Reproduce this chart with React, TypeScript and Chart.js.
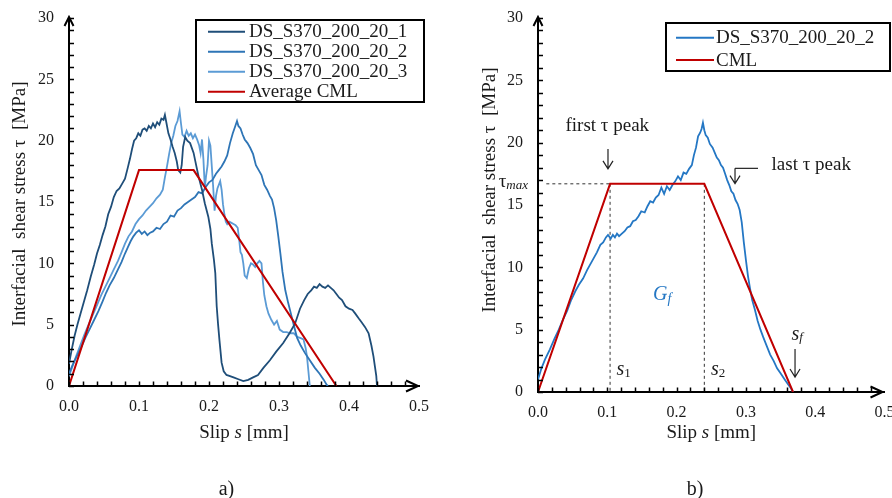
import React, { useEffect, useRef } from 'react';
import { Chart, registerables } from 'chart.js';

Chart.register(...registerables);

const SERIF = '"Liberation Serif", "Times New Roman", Times, serif';
const TEXT = '#1a1a1a';

// ---------------- Panel a) data ----------------
const slipA1 = [
  0, 0.004, 0.008, 0.012, 0.016, 0.021, 0.026, 0.031, 0.036, 0.040,
  0.044, 0.048, 0.052, 0.056, 0.060, 0.064, 0.068, 0.072, 0.076, 0.080,
  0.084, 0.087, 0.090, 0.093, 0.096, 0.099, 0.102, 0.105, 0.108, 0.111,
  0.114, 0.117, 0.120, 0.123, 0.126, 0.129, 0.132, 0.135, 0.137, 0.139,
  0.142, 0.145, 0.148, 0.151, 0.154, 0.156, 0.159, 0.161, 0.163, 0.166,
  0.169, 0.173, 0.178, 0.182, 0.185, 0.190, 0.194, 0.199, 0.202, 0.204,
  0.207, 0.209, 0.211, 0.213, 0.215, 0.218, 0.221, 0.225, 0.230, 0.235,
  0.242, 0.249, 0.256, 0.263, 0.270, 0.278, 0.287, 0.296, 0.306, 0.315,
  0.323, 0.330, 0.336, 0.341, 0.346, 0.350, 0.354, 0.358, 0.362, 0.366,
  0.370, 0.374, 0.378, 0.382, 0.386, 0.390, 0.395, 0.400, 0.405, 0.409,
  0.414, 0.418, 0.423, 0.428, 0.432, 0.435, 0.437, 0.439, 0.440,
];
const tauA1 = [
  1.8, 3.0, 4.1, 5.0, 5.8, 6.8, 7.8, 8.9, 9.9, 10.8,
  11.5, 12.3, 13.0, 14.0, 14.6, 15.4, 15.9, 16.1, 16.5, 16.9,
  17.8, 18.5, 19.3, 20.0, 20.2, 20.6, 20.4, 20.9, 21.0, 20.8,
  21.2, 21.0, 21.4, 21.1, 21.5, 21.3, 21.8, 21.7, 22.1, 21.5,
  20.6, 20.1, 19.5, 19.0, 18.3, 17.6, 17.4, 18.0, 19.5, 20.3,
  20.0, 19.8, 19.0, 17.9, 17.1, 16.0, 14.9, 13.8, 12.8, 11.6,
  10.3, 9.2, 6.5, 5.0, 3.7, 1.9, 1.2, 0.9, 0.8, 0.7,
  0.55, 0.4, 0.5, 0.7, 0.9, 1.5, 2.1, 2.8, 3.5, 4.3,
  5.1, 6.3, 7.0, 7.5, 7.8, 8.1, 8.0, 8.3, 8.1, 8.0,
  8.2, 8.0, 7.8, 7.5, 7.2, 7.0, 6.5, 6.3, 6.2, 5.9,
  5.5, 5.2, 4.8, 4.3, 3.3, 2.4, 1.6, 0.8, 0,
];

const slipA2 = [
  0, 0.005, 0.010, 0.017, 0.024, 0.030, 0.036, 0.042, 0.048, 0.053,
  0.058, 0.064, 0.070, 0.075, 0.080, 0.084, 0.088, 0.092, 0.096, 0.100,
  0.104, 0.108, 0.112, 0.116, 0.120, 0.125, 0.130, 0.135, 0.140, 0.145,
  0.150, 0.155, 0.160, 0.165, 0.170, 0.175, 0.180, 0.185, 0.190, 0.195,
  0.200, 0.205, 0.210, 0.214, 0.218, 0.222, 0.226, 0.230, 0.234, 0.237,
  0.240, 0.242, 0.245, 0.248, 0.251, 0.255, 0.259, 0.263, 0.267, 0.271,
  0.275, 0.279, 0.283, 0.287, 0.290, 0.293, 0.296, 0.299, 0.302, 0.305,
  0.309, 0.313, 0.317, 0.321, 0.326, 0.331, 0.337, 0.344, 0.351, 0.358,
  0.364, 0.368, 0.370,
];
const tauA2 = [
  1.0, 1.7, 2.3, 3.1, 4.0, 4.7, 5.4, 6.1, 6.9, 7.6,
  8.2, 8.8, 9.5, 10.1, 10.8, 11.3, 11.8, 12.2, 12.5, 12.7,
  12.4, 12.6, 12.3, 12.5, 12.6, 12.9, 12.8, 13.2, 13.4, 13.9,
  13.8, 14.3, 14.5, 14.8, 15.0, 15.2, 15.4, 15.8, 15.7, 16.2,
  16.6, 16.8, 17.3, 17.6, 17.9, 18.3, 18.8, 19.8, 20.6, 21.1,
  21.6, 21.2, 21.0, 20.5, 20.1, 19.8, 19.4, 18.9, 18.0, 17.6,
  17.2, 16.4, 16.0, 15.5, 15.2, 14.5, 13.5, 12.2, 10.8, 9.3,
  7.8, 6.8, 5.9, 5.0, 3.9, 3.3, 2.7, 2.1, 1.5, 1.0,
  0.5, 0.1, 0,
];

const slipA3 = [
  0, 0.005, 0.010, 0.016, 0.022, 0.028, 0.034, 0.040, 0.046, 0.052,
  0.058, 0.064, 0.070, 0.075, 0.080, 0.085, 0.090, 0.095, 0.100, 0.105,
  0.110, 0.115, 0.120, 0.125, 0.130, 0.134, 0.137, 0.140, 0.143, 0.146,
  0.149, 0.152, 0.155, 0.158, 0.160, 0.162, 0.165, 0.168, 0.171, 0.174,
  0.177, 0.180, 0.183, 0.186, 0.188, 0.190, 0.192, 0.194, 0.196, 0.198,
  0.200, 0.202, 0.204, 0.206, 0.208, 0.210, 0.212, 0.214, 0.216, 0.218,
  0.220, 0.222, 0.224, 0.226, 0.229, 0.232, 0.235, 0.238, 0.241, 0.243,
  0.245, 0.247, 0.249, 0.251, 0.254, 0.257, 0.260, 0.263, 0.266, 0.269,
  0.272, 0.275, 0.277, 0.279, 0.282, 0.285, 0.289, 0.293, 0.297, 0.301,
  0.306, 0.311, 0.316, 0.321, 0.326, 0.331, 0.335, 0.338, 0.340, 0.342, 0.344,
];
const tauA3 = [
  0.8, 1.6, 2.4, 3.3, 4.2, 5.0, 5.8, 6.6, 7.4, 8.1,
  8.8, 9.5, 10.2, 10.9, 11.6, 12.2, 12.6, 13.2, 13.6, 13.9,
  14.3, 14.6, 14.9, 15.3, 15.6, 16.0, 17.0, 17.9, 18.9, 19.8,
  20.4, 21.2, 21.6, 22.4, 21.4, 20.5, 20.3, 20.8, 20.4, 20.6,
  20.2, 20.5, 20.1, 19.6, 19.0, 20.1, 18.5, 16.2, 17.2, 18.0,
  20.0, 19.6, 17.9, 16.2, 14.3, 15.5, 16.1, 16.4, 16.7, 16.0,
  14.8, 14.0, 13.4, 13.2, 13.4, 13.3, 13.2, 13.1, 12.9, 12.0,
  10.9, 10.7, 10.0, 9.0, 8.8, 9.6, 10.0, 9.9, 9.7, 10.0,
  10.2, 10.0, 8.5, 7.4, 6.5, 5.9, 5.4, 5.0, 5.3, 4.6,
  4.4, 4.4, 4.3, 4.3, 4.0, 3.9, 3.8, 3.1, 2.4, 1.2, 0,
];

const cmlASlip = [0, 0.1, 0.178, 0.382];
const cmlATau = [0, 17.6, 17.6, 0];

// ---------------- Panel b) data ----------------
const slipB = [
  0, 0.005, 0.010, 0.017, 0.024, 0.030, 0.036, 0.042, 0.048, 0.054,
  0.059, 0.065, 0.071, 0.076, 0.081, 0.085, 0.090, 0.094, 0.098, 0.101,
  0.105, 0.108, 0.111, 0.114, 0.117, 0.121, 0.125, 0.129, 0.133, 0.137,
  0.141, 0.145, 0.149, 0.154, 0.158, 0.162, 0.166, 0.170, 0.174, 0.178,
  0.182, 0.186, 0.190, 0.194, 0.198, 0.202, 0.206, 0.210, 0.214, 0.218,
  0.222, 0.225, 0.228, 0.231, 0.234, 0.236, 0.238, 0.240, 0.242, 0.245,
  0.248, 0.252, 0.255, 0.258, 0.261, 0.264, 0.267, 0.270, 0.273, 0.276,
  0.279, 0.282, 0.285, 0.288, 0.291, 0.294, 0.297, 0.300, 0.303, 0.306,
  0.309, 0.313, 0.317, 0.321, 0.325, 0.330, 0.335, 0.340, 0.345, 0.350,
  0.356, 0.361, 0.365, 0.368,
];
const tauB = [
  1.0, 1.9, 2.6, 3.4, 4.3, 5.0, 5.8, 6.5, 7.4, 8.1,
  8.6, 9.1, 9.8, 10.3, 10.8, 11.2, 11.8, 12.0, 12.4, 12.6,
  12.3, 12.6, 12.4, 12.7, 12.5, 12.7, 12.9, 13.2, 13.3, 13.7,
  13.8, 14.1, 14.5, 14.4, 14.9, 15.3, 15.2, 15.6, 15.8, 16.4,
  15.9, 16.5, 16.2, 16.6, 16.9, 17.3, 17.0, 17.6, 17.5, 17.9,
  18.2, 19.0, 19.6, 20.5, 20.8, 21.1, 21.6, 21.0, 20.6, 20.4,
  19.9, 19.6, 19.2, 18.8, 18.6, 18.2, 18.0, 17.5, 17.0, 16.6,
  16.1, 15.9, 15.4, 15.1, 14.6, 13.6, 12.0, 10.6, 9.3, 8.3,
  7.4, 6.6, 5.7, 5.0, 4.4, 3.7, 3.0, 2.5, 1.9, 1.5,
  1.0, 0.6, 0.3, 0,
];

const cmlBSlip = [0, 0.104, 0.240, 0.368];
const cmlBTau = [0, 16.7, 16.7, 0];
const tauMaxSlip = [0.012, 0.104];
const tauMaxTau = [16.7, 16.7];
const s1GuideSlip = [0.104, 0.104];
const s2GuideSlip = [0.240, 0.240];
const guideTau = [16.7, 0];

// ---------------- ticks & labels ----------------
const xTickValues = [0, 0.1, 0.2, 0.3, 0.4, 0.5];
const xTickLabels = ['0.0', '0.1', '0.2', '0.3', '0.4', '0.5'];
const yTickValues = [0, 5, 10, 15, 20, 25, 30];
const yTickLabels = ['0', '5', '10', '15', '20', '25', '30'];
const legendA = ['DS_S370_200_20_1', 'DS_S370_200_20_2', 'DS_S370_200_20_3', 'Average CML'];
const legendB = ['DS_S370_200_20_2', 'CML'];
const Y_TITLE = 'Interfacial  shear stress \u03c4  [MPa]';

const COL1 = '#1F4E79';
const COL2 = '#2E75B6';
const COL3 = '#5B9BD5';
const COLB = '#2477C4';
const RED = '#C00000';

const zip = (xs: number[], ys: number[]) =>
  xs.slice(0, Math.min(xs.length, ys.length)).map((x, i) => ({ x, y: ys[i] }));

const font = (size: number, italic = false) => `${italic ? 'italic ' : ''}${size}px ${SERIF}`;

type Part = { text: string; font: string; dy?: number; color?: string };

function drawParts(ctx: CanvasRenderingContext2D, parts: Part[], x: number, y: number, align: 'left' | 'center' | 'right') {
  const widths = parts.map((p) => {
    ctx.font = p.font;
    return ctx.measureText(p.text).width;
  });
  const total = widths.reduce((a, b) => a + b, 0);
  let cx = align === 'center' ? x - total / 2 : align === 'right' ? x - total : x;
  ctx.textAlign = 'left';
  ctx.textBaseline = 'alphabetic';
  parts.forEach((p, i) => {
    ctx.font = p.font;
    ctx.fillStyle = p.color || TEXT;
    ctx.fillText(p.text, cx, y + (p.dy || 0));
    cx += widths[i];
  });
}

function drawInnerTicks(chart: any) {
  const { ctx, chartArea: ca, scales } = chart;
  const xs = scales.x;
  const ys = scales.y;
  ctx.save();
  ctx.strokeStyle = '#000';
  ctx.lineWidth = 1.5;
  ctx.beginPath();
  xs.ticks.forEach((t: any) => {
    const px = Math.round(xs.getPixelForValue(t.value)) + 0.5;
    if (px > ca.right - 6) return;
    ctx.moveTo(px, ca.bottom);
    ctx.lineTo(px, ca.bottom - 4.5);
  });
  ys.ticks.forEach((t: any) => {
    const py = Math.round(ys.getPixelForValue(t.value)) + 0.5;
    ctx.moveTo(ca.left, py);
    ctx.lineTo(ca.left + 5, py);
  });
  ctx.stroke();
  ctx.restore();
}

function drawAxisArrows(ctx: CanvasRenderingContext2D, ca: any, xApexInset: number) {
  ctx.save();
  ctx.strokeStyle = '#000';
  ctx.lineWidth = 2;
  ctx.beginPath();
  ctx.moveTo(ca.left - 4.5, ca.top + 8);
  ctx.lineTo(ca.left, ca.top - 1);
  ctx.lineTo(ca.left + 4.5, ca.top + 8);
  const ax = ca.right - xApexInset;
  ctx.moveTo(ax - 12, ca.bottom - 5.5);
  ctx.lineTo(ax, ca.bottom);
  ctx.lineTo(ax - 12, ca.bottom + 5.5);
  ctx.moveTo(ca.right - 2, ca.bottom);
  ctx.lineTo(ax, ca.bottom);
  ctx.stroke();
  ctx.restore();
}

function drawYTitle(ctx: CanvasRenderingContext2D, x: number, y: number) {
  ctx.save();
  ctx.translate(x, y);
  ctx.rotate(-Math.PI / 2);
  ctx.font = font(19);
  ctx.fillStyle = TEXT;
  ctx.textAlign = 'center';
  ctx.textBaseline = 'middle';
  ctx.fillText(Y_TITLE, 0, 0);
  ctx.restore();
}

function drawXTitle(ctx: CanvasRenderingContext2D, cx: number, baseline: number) {
  drawParts(
    ctx,
    [
      { text: 'Slip ', font: font(19) },
      { text: 's', font: font(19, true) },
      { text: ' [mm]', font: font(19) },
    ],
    cx,
    baseline,
    'center'
  );
}

type LegendCfg = {
  box: [number, number, number, number];
  baselines: number[];
  sample: [number, number];
  textX: number;
  items: number[];
  labels: string[];
};

function drawLegend(ctx: CanvasRenderingContext2D, chart: any, cfg: LegendCfg) {
  ctx.save();
  ctx.fillStyle = '#fff';
  ctx.fillRect(cfg.box[0], cfg.box[1], cfg.box[2], cfg.box[3]);
  ctx.strokeStyle = '#000';
  ctx.lineWidth = 2;
  ctx.strokeRect(cfg.box[0], cfg.box[1], cfg.box[2], cfg.box[3]);
  cfg.items.forEach((dsIndex, i) => {
    const ds = chart.data.datasets[dsIndex];
    const b = cfg.baselines[i];
    ctx.strokeStyle = ds.borderColor;
    ctx.lineWidth = 2;
    ctx.beginPath();
    ctx.moveTo(cfg.sample[0], b - 5.6);
    ctx.lineTo(cfg.sample[1], b - 5.6);
    ctx.stroke();
    ctx.font = font(19);
    ctx.fillStyle = TEXT;
    ctx.textAlign = 'left';
    ctx.textBaseline = 'alphabetic';
    ctx.fillText(cfg.labels[i], cfg.textX, b);
  });
  ctx.restore();
}

function drawArrowDown(ctx: CanvasRenderingContext2D, x: number, y1: number, y2: number) {
  ctx.beginPath();
  ctx.moveTo(x, y1);
  ctx.lineTo(x, y2);
  ctx.moveTo(x - 5, y2 - 8);
  ctx.lineTo(x, y2);
  ctx.lineTo(x + 5, y2 - 8);
  ctx.stroke();
}

type Layout = { yWidth: number; xHeight: number; padRight: number; padTop: number };

function buildOptions(p: Layout) {
  return {
    responsive: false,
    animation: false as const,
    events: [] as any[],
    layout: { padding: { top: p.padTop, right: p.padRight, left: 0, bottom: 0 } },
    plugins: { legend: { display: false }, tooltip: { enabled: false } },
    elements: { point: { radius: 0 }, line: { tension: 0 } },
    scales: {
      x: {
        type: 'linear' as const,
        min: 0,
        max: 0.5,
        grid: { display: false, drawTicks: false },
        border: { display: true, color: '#000', width: 2 },
        ticks: {
          stepSize: 0.02,
          autoSkip: false,
          maxRotation: 0,
          minRotation: 0,
          padding: 11,
          color: TEXT,
          font: { family: SERIF, size: 16 },
          callback: (v: any) => {
            const i = xTickValues.findIndex((t) => Math.abs(t - Number(v)) < 1e-6);
            return i >= 0 ? xTickLabels[i] : '';
          },
        },
        afterFit: (s: any) => {
          s.height = p.xHeight;
          s.paddingLeft = 0;
          s.paddingRight = 0;
        },
      },
      y: {
        type: 'linear' as const,
        min: 0,
        max: 30,
        grid: { display: false, drawTicks: false },
        border: { display: true, color: '#000', width: 2 },
        ticks: {
          stepSize: 1,
          autoSkip: false,
          padding: 15,
          color: TEXT,
          font: { family: SERIF, size: 16 },
          callback: (v: any) => {
            const i = yTickValues.findIndex((t) => Math.abs(t - Number(v)) < 1e-6);
            return i >= 0 ? yTickLabels[i] : '';
          },
        },
        afterFit: (s: any) => {
          s.width = p.yWidth;
          s.paddingTop = 0;
          s.paddingBottom = 0;
        },
      },
    },
  };
}

const lineDs = (label: string, data: any[], color: string, width = 1.8, extra: any = {}) => ({
  label,
  data,
  borderColor: color,
  backgroundColor: color,
  borderWidth: width,
  showLine: true,
  pointRadius: 0,
  fill: false,
  tension: 0,
  ...extra,
});

function configA(): any {
  const decor = {
    id: 'decorA',
    afterDraw(chart: any) {
      const { ctx, chartArea: ca } = chart;
      drawInnerTicks(chart);
      drawAxisArrows(ctx, ca, 1);
      drawYTitle(ctx, 20, 204);
      drawXTitle(ctx, (ca.left + ca.right) / 2, 438);
      drawLegend(ctx, chart, {
        box: [196, 20, 228, 82],
        baselines: [37.3, 57.3, 77.3, 97.3],
        sample: [208, 245],
        textX: 249,
        items: [1, 2, 3, 0],
        labels: legendA,
      });
      drawParts(ctx, [{ text: 'a)', font: font(20) }], 226.5, 495, 'center');
    },
  };
  return {
    type: 'scatter',
    data: {
      datasets: [
        lineDs(legendA[3], zip(cmlASlip, cmlATau), RED, 2),
        lineDs(legendA[0], zip(slipA1, tauA1), COL1),
        lineDs(legendA[1], zip(slipA2, tauA2), COL2),
        lineDs(legendA[2], zip(slipA3, tauA3), COL3),
      ],
    },
    options: buildOptions({ yWidth: 69, xHeight: 112, padRight: 27, padTop: 18 }),
    plugins: [decor],
  };
}

function configB(): any {
  const decor = {
    id: 'decorB',
    afterDraw(chart: any) {
      const { ctx, chartArea: ca, scales } = chart;
      const X = (s: number) => scales.x.getPixelForValue(s);
      const Y = (t: number) => scales.y.getPixelForValue(t);
      drawInnerTicks(chart);
      drawAxisArrows(ctx, ca, 2);
      drawYTitle(ctx, 44, 190);
      drawXTitle(ctx, (ca.left + ca.right) / 2, 438);
      drawLegend(ctx, chart, {
        box: [220, 23, 224, 48],
        baselines: [43.3, 65.7],
        sample: [230, 268],
        textX: 270,
        items: [1, 0],
        labels: legendB,
      });

      ctx.save();
      // tau_max label
      drawParts(
        ctx,
        [
          { text: '\u03c4', font: font(19) },
          { text: 'max', font: font(13, true), dy: 2 },
        ],
        ca.left - 10,
        Y(16.7) + 3,
        'right'
      );
      // first tau peak
      drawParts(ctx, [{ text: 'first \u03c4 peak', font: font(19) }], X(0.1), Y(20.9), 'center');
      ctx.strokeStyle = '#222';
      ctx.lineWidth = 1.2;
      drawArrowDown(ctx, X(0.101), Y(19.5), Y(17.9));
      // last tau peak
      drawParts(ctx, [{ text: 'last \u03c4 peak', font: font(19) }], X(0.337), Y(17.8), 'left');
      ctx.beginPath();
      ctx.moveTo(X(0.3175), Y(17.94));
      ctx.lineTo(X(0.2843), Y(17.94));
      ctx.stroke();
      drawArrowDown(ctx, X(0.2843), Y(17.94), Y(16.72));
      // s1, s2
      drawParts(
        ctx,
        [
          { text: 's', font: font(20, true) },
          { text: '1', font: font(13), dy: 2 },
        ],
        X(0.1133),
        Y(1.36),
        'left'
      );
      drawParts(
        ctx,
        [
          { text: 's', font: font(20, true) },
          { text: '2', font: font(13), dy: 2 },
        ],
        X(0.2496),
        Y(1.36),
        'left'
      );
      // s_f
      drawParts(
        ctx,
        [
          { text: 's', font: font(20, true) },
          { text: 'f', font: font(13, true), dy: 1 },
        ],
        X(0.3658),
        Y(4.17),
        'left'
      );
      drawArrowDown(ctx, X(0.3709), Y(3.45), Y(1.2));
      // G_f
      drawParts(
        ctx,
        [
          { text: 'G', font: font(20, true), color: COLB },
          { text: 'f', font: font(14, true), dy: 3, color: COLB },
        ],
        X(0.1659),
        Y(7.38),
        'left'
      );
      ctx.restore();
      drawParts(ctx, [{ text: 'b)', font: font(20) }], 249, 495, 'center');
    },
  };
  const dash = { borderDash: [3, 3] };
  return {
    type: 'scatter',
    data: {
      datasets: [
        lineDs(legendB[1], zip(cmlBSlip, cmlBTau), RED, 2),
        lineDs(legendB[0], zip(slipB, tauB), COLB),
        lineDs('tau_max', zip(tauMaxSlip, tauMaxTau), '#333', 1, dash),
        lineDs('s1', zip(s1GuideSlip, guideTau), '#333', 1, dash),
        lineDs('s2', zip(s2GuideSlip, guideTau), '#333', 1, dash),
      ],
    },
    options: buildOptions({ yWidth: 92, xHeight: 106, padRight: 7.5, padTop: 18 }),
    plugins: [decor],
  };
}

export default function App() {
  const refA = useRef<HTMLCanvasElement>(null);
  const refB = useRef<HTMLCanvasElement>(null);
  useEffect(() => {
    const a = new Chart(refA.current as HTMLCanvasElement, configA());
    const b = new Chart(refB.current as HTMLCanvasElement, configB());
    return () => {
      a.destroy();
      b.destroy();
    };
  }, []);
  return (
    <div
      style={{
        position: 'absolute',
        left: 0,
        top: 0,
        width: 892,
        height: 498,
        background: '#fff',
        overflow: 'hidden',
      }}
    >
      <canvas ref={refA} width={446} height={498} style={{ position: 'absolute', left: 0, top: 0 }} />
      <canvas ref={refB} width={446} height={498} style={{ position: 'absolute', left: 446, top: 0 }} />
    </div>
  );
}
